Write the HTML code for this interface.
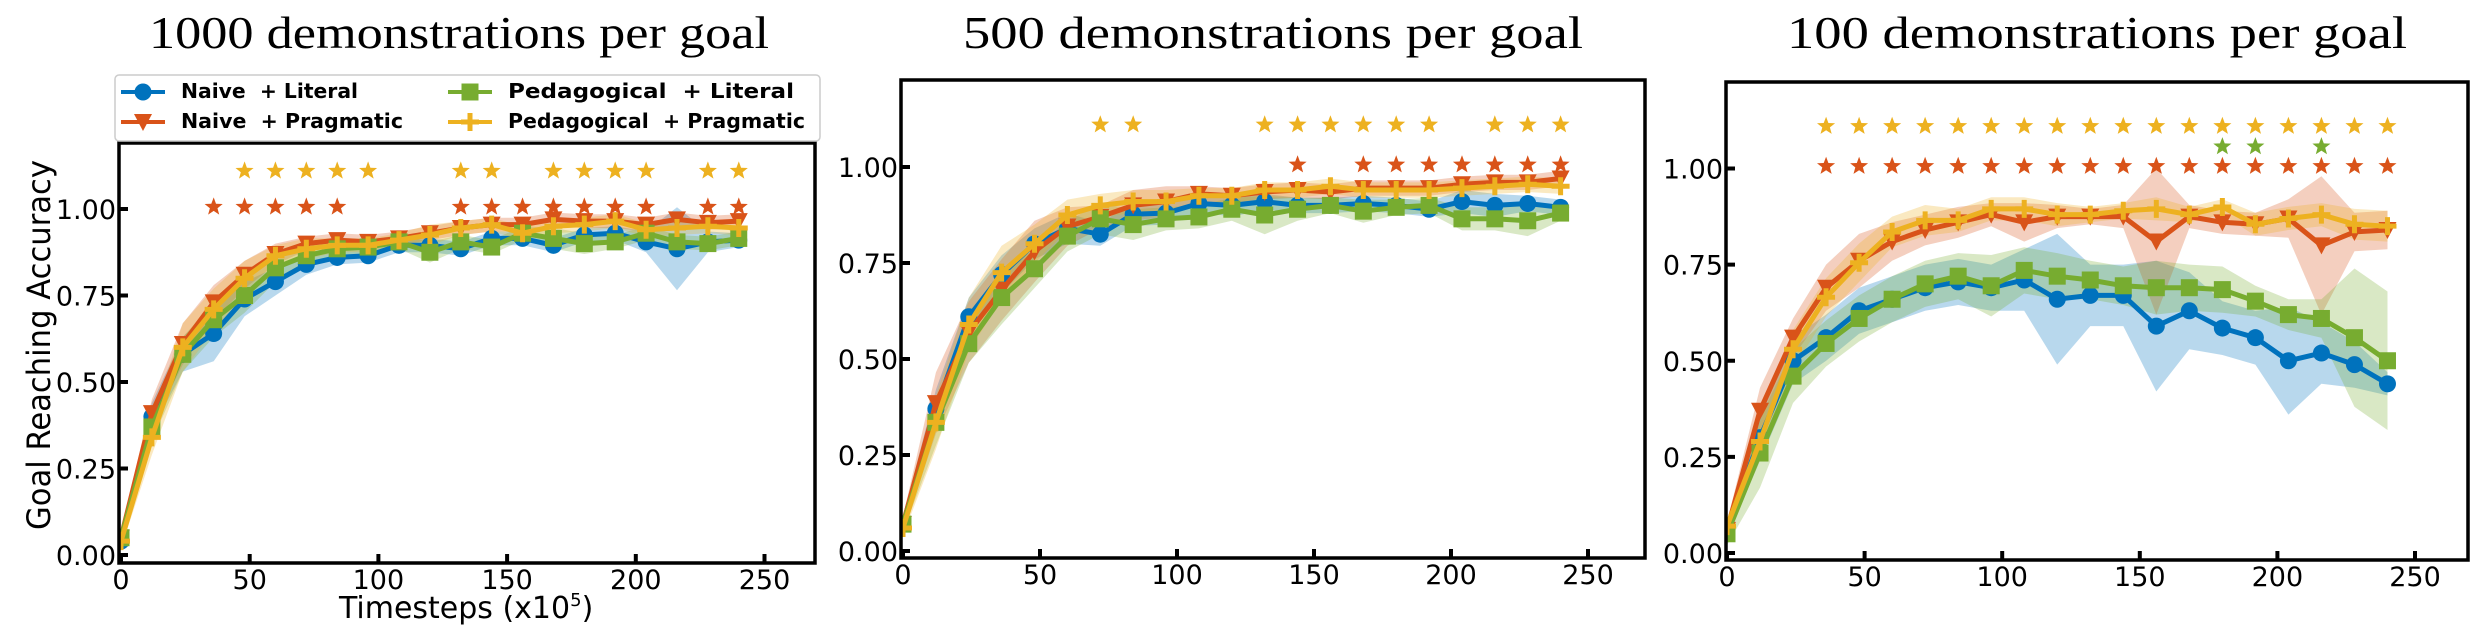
<!DOCTYPE html>
<html><head><meta charset="utf-8"><style>
html,body{margin:0;padding:0;background:#fff;}
svg{display:block;}
.leg{white-space:pre;}
</style></head><body>
<svg id="fig" width="2471" height="628" viewBox="0 0 2471 628" xmlns="http://www.w3.org/2000/svg"></svg>
<script>
// ---------- DATA ----------
const steps = [0,12,24,36,48,60,72,84,96,108,120,132,144,156,168,180,192,204,216,228,240];
const panelTitles = ["1000 demonstrations per goal","500 demonstrations per goal","100 demonstrations per goal"];
const seriesNames = ["Naive  + Literal","Naive  + Pragmatic","Pedagogical  + Literal","Pedagogical  + Pragmatic"];
const xTicks = [0,50,100,150,200,250];
const yTicks = [0,0.25,0.5,0.75,1.0];
const yTickLabels = ["0.00","0.25","0.50","0.75","1.00"];

// panel 1 (1000 demos)
const p1Blue   = [0.04,0.40,0.58,0.64,0.74,0.79,0.84,0.86,0.865,0.895,0.895,0.885,0.915,0.915,0.895,0.925,0.93,0.905,0.885,0.905,0.91];
const p1Red    = [0.05,0.41,0.61,0.73,0.81,0.87,0.90,0.91,0.905,0.915,0.93,0.945,0.955,0.955,0.97,0.965,0.965,0.955,0.97,0.96,0.965];
const p1Green  = [0.05,0.37,0.58,0.68,0.75,0.83,0.865,0.885,0.89,0.905,0.875,0.905,0.89,0.93,0.915,0.90,0.905,0.93,0.905,0.90,0.915];
const p1Orange = [0.04,0.34,0.60,0.71,0.80,0.865,0.885,0.895,0.895,0.91,0.925,0.945,0.955,0.93,0.95,0.955,0.965,0.94,0.945,0.95,0.945];
const p1BlueSd   = [0.02,0.04,0.05,0.08,0.05,0.04,0.03,0.02,0.02,0.02,0.02,0.02,0.02,0.02,0.02,0.02,0.02,0.03,0.12,0.03,0.02];
const p1RedSd    = [0.02,0.04,0.06,0.05,0.04,0.03,0.02,0.02,0.02,0.02,0.02,0.02,0.02,0.02,0.02,0.02,0.02,0.02,0.02,0.02,0.02];
const p1GreenSd  = [0.02,0.04,0.05,0.05,0.05,0.04,0.03,0.02,0.02,0.02,0.03,0.02,0.02,0.02,0.03,0.03,0.02,0.02,0.02,0.02,0.02];
const p1OrangeSd = [0.02,0.05,0.07,0.06,0.05,0.03,0.03,0.02,0.02,0.02,0.03,0.02,0.02,0.02,0.02,0.02,0.02,0.02,0.02,0.02,0.02];
const p1StarsOrange = [48,60,72,84,96,132,144,168,180,192,204,228,240];
const p1StarsRed    = [36,48,60,72,84,132,144,156,168,180,192,204,228,240];
const p1StarsGreen  = [];

// panel 2 (500 demos)
const p2Blue   = [0.07,0.37,0.61,0.72,0.80,0.84,0.825,0.877,0.88,0.905,0.90,0.91,0.90,0.90,0.905,0.90,0.89,0.91,0.90,0.905,0.895];
const p2Red    = [0.07,0.385,0.57,0.68,0.78,0.845,0.87,0.90,0.91,0.93,0.925,0.935,0.94,0.935,0.945,0.945,0.945,0.955,0.96,0.96,0.97];
const p2Green  = [0.07,0.335,0.54,0.66,0.735,0.82,0.865,0.85,0.865,0.87,0.89,0.875,0.89,0.90,0.885,0.895,0.90,0.865,0.865,0.86,0.88];
const p2Orange = [0.06,0.335,0.59,0.725,0.80,0.875,0.90,0.91,0.91,0.925,0.925,0.94,0.94,0.95,0.94,0.94,0.94,0.945,0.95,0.955,0.95];
const p2BlueSd   = [0.02,0.05,0.05,0.05,0.04,0.04,0.03,0.03,0.03,0.02,0.03,0.02,0.02,0.02,0.02,0.02,0.02,0.03,0.03,0.02,0.02];
const p2RedSd    = [0.02,0.08,0.08,0.08,0.08,0.05,0.03,0.04,0.04,0.02,0.02,0.02,0.02,0.02,0.02,0.02,0.02,0.02,0.02,0.02,0.02];
const p2GreenSd  = [0.02,0.06,0.05,0.07,0.05,0.04,0.04,0.04,0.03,0.03,0.03,0.05,0.03,0.02,0.03,0.02,0.02,0.03,0.03,0.04,0.02];
const p2OrangeSd = [0.02,0.07,0.07,0.07,0.05,0.04,0.03,0.03,0.03,0.02,0.02,0.02,0.02,0.02,0.02,0.02,0.02,0.02,0.02,0.02,0.02];
const p2StarsOrange = [72,84,132,144,156,168,180,192,216,228,240];
const p2StarsRed    = [144,168,180,192,204,216,228,240];
const p2StarsGreen  = [];

// panel 3 (100 demos)
const p3Blue   = [0.06,0.30,0.50,0.56,0.63,0.66,0.69,0.705,0.69,0.71,0.66,0.67,0.67,0.59,0.63,0.585,0.56,0.50,0.52,0.49,0.44];
const p3Red    = [0.06,0.37,0.56,0.69,0.76,0.81,0.84,0.86,0.88,0.86,0.875,0.875,0.875,0.81,0.875,0.86,0.855,0.87,0.80,0.835,0.84];
const p3Green  = [0.05,0.26,0.46,0.545,0.61,0.66,0.70,0.72,0.695,0.735,0.72,0.71,0.695,0.69,0.69,0.685,0.655,0.62,0.61,0.56,0.50];
const p3Orange = [0.07,0.29,0.53,0.665,0.755,0.835,0.865,0.865,0.895,0.895,0.88,0.88,0.89,0.895,0.88,0.90,0.855,0.87,0.88,0.855,0.85];
const p3BlueSd   = [0.02,0.06,0.06,0.06,0.06,0.06,0.06,0.06,0.06,0.08,0.17,0.08,0.08,0.17,0.10,0.07,0.07,0.14,0.08,0.06,0.03];
const p3RedSd    = [0.02,0.06,0.05,0.06,0.07,0.05,0.04,0.04,0.03,0.05,0.03,0.02,0.03,0.19,0.03,0.03,0.03,0.05,0.18,0.05,0.05];
const p3GreenSd  = [0.03,0.09,0.07,0.06,0.06,0.06,0.06,0.06,0.08,0.06,0.06,0.05,0.05,0.07,0.06,0.06,0.04,0.04,0.05,0.18,0.18];
const p3OrangeSd = [0.02,0.05,0.05,0.05,0.05,0.04,0.04,0.03,0.03,0.03,0.03,0.02,0.02,0.03,0.02,0.02,0.03,0.03,0.03,0.04,0.04];
const p3StarsOrange = [36,48,60,72,84,96,108,120,132,144,156,168,180,192,204,216,228,240];
const p3StarsRed    = [36,48,60,72,84,96,108,120,132,144,156,168,180,192,204,216,228,240];
const p3StarsGreen  = [180,192,216];

const starLevels = [1.11, 1.057, 1.006]; // orange, green, red rows

// ---------- RENDER ----------
const NS = "http://www.w3.org/2000/svg";
const svg = document.getElementById("fig");
const colors = ["#0072BD","#D95319","#77AC30","#EDB120"];
const markerKinds = ["circle","tri","square","plus"];

function mk(tag, attrs, parent){
  const e = document.createElementNS(NS, tag);
  for (const k in attrs) e.setAttribute(k, attrs[k]);
  (parent||svg).appendChild(e);
  return e;
}

const panels = [
  {x0:121, xs:128.7/50, y0:555, ys:346, left:119, right:815, top:143, bottom:563, tx:459, data:[p1Blue,p1Red,p1Green,p1Orange], sd:[p1BlueSd,p1RedSd,p1GreenSd,p1OrangeSd], stars:[p1StarsOrange,p1StarsGreen,p1StarsRed]},
  {x0:903, xs:137/50, y0:551, ys:384, left:901, right:1645, top:80, bottom:558, tx:1273, data:[p2Blue,p2Red,p2Green,p2Orange], sd:[p2BlueSd,p2RedSd,p2GreenSd,p2OrangeSd], stars:[p2StarsOrange,p2StarsGreen,p2StarsRed]},
  {x0:1727, xs:137.6/50, y0:553, ys:384.5, left:1726, right:2468, top:82, bottom:560, tx:2097, data:[p3Blue,p3Red,p3Green,p3Orange], sd:[p3BlueSd,p3RedSd,p3GreenSd,p3OrangeSd], stars:[p3StarsOrange,p3StarsGreen,p3StarsRed]}
];

function starPath(cx, cy, R){
  const r = R*0.42; let d = "";
  for (let i=0;i<10;i++){
    const a = -Math.PI/2 + i*Math.PI/5;
    const rr = i%2===0 ? R : r;
    d += (i===0?"M":"L") + (cx+rr*Math.cos(a)).toFixed(1) + " " + (cy+rr*Math.sin(a)).toFixed(1);
  }
  return d + "Z";
}

function drawMarker(g, kind, cx, cy, color){
  let m;
  if (kind==="circle") m = mk("circle",{cx:cx,cy:cy,r:8.5,fill:color},g);
  else if (kind==="tri") m = mk("path",{d:`M${cx-9} ${cy-8}L${cx+9} ${cy-8}L${cx} ${cy+9}Z`,fill:color},g);
  else if (kind==="square") m = mk("rect",{x:cx-8.5,y:cy-8.5,width:17,height:17,fill:color},g);
  else m = mk("path",{d:`M${cx-9} ${cy}L${cx+9} ${cy}M${cx} ${cy-9}L${cx} ${cy+9}`,stroke:color,"stroke-width":5},g);
  return m;
}

panels.forEach((p, pi) => {
  const X = v => p.x0 + v*p.xs;
  const Y = v => p.y0 - v*p.ys;
  const pg = mk("g",{});
  
  

  const t = mk("text",{x:p.tx,y:48,"text-anchor":"middle","font-family":"'Liberation Serif',serif","font-size":46,fill:"#000",textLength:620,lengthAdjust:"spacingAndGlyphs"},pg);
  t.textContent = panelTitles[pi];
  
  

  const cp = mk("clipPath",{id:"clip"+pi},pg);
  mk("rect",{x:p.left,y:p.top,width:p.right-p.left,height:p.bottom-p.top},cp);

  const bandG = mk("g",{"clip-path":`url(#clip${pi})`},pg);
  p.data.forEach((vals, si) => {
    const sd = p.sd[si];
    let d = "";
    vals.forEach((v,i)=>{ d += (i?"L":"M") + X(steps[i]).toFixed(1)+" "+Y(v+sd[i]).toFixed(1); });
    for (let i=vals.length-1;i>=0;i--) d += "L"+X(steps[i]).toFixed(1)+" "+Y(vals[i]-sd[i]).toFixed(1);
    const b = mk("path",{d:d+"Z",fill:colors[si],"fill-opacity":0.28,stroke:"none"},bandG);
    
    
  });
  p.data.forEach((vals, si) => {
    const g = mk("g",{},bandG);
    
    
    const pts = vals.map((v,i)=>X(steps[i]).toFixed(1)+","+Y(v).toFixed(1)).join(" ");
    mk("polyline",{points:pts,fill:"none",stroke:colors[si],"stroke-width":5,"stroke-linejoin":"round"},g);
    vals.forEach((v,i)=>{
      const m = drawMarker(g, markerKinds[si], X(steps[i]), Y(v), colors[si]);
      
      
    });
  });

  const starColors = [colors[3], colors[2], colors[1]];
  p.stars.forEach((arr, ri) => {
    arr.forEach(sx => {
      const s = mk("path",{d:starPath(X(sx), Y(starLevels[ri]), 9.5),fill:starColors[ri]},pg);
      
      
    });
  });

  const fr = mk("rect",{x:p.left,y:p.top,width:p.right-p.left,height:p.bottom-p.top,fill:"none",stroke:"#000","stroke-width":3.5},pg);
  
  

  xTicks.forEach(v => {
    mk("line",{x1:X(v),x2:X(v),y1:p.bottom,y2:p.bottom-9,stroke:"#000","stroke-width":4},pg);
    const tl = mk("text",{x:X(v),y:p.bottom+26,"text-anchor":"middle","font-family":"'DejaVu Sans',sans-serif","font-size":27,fill:"#000"},pg);
    tl.textContent = v;
    
    
  });
  yTicks.forEach((v,i) => {
    mk("line",{x1:p.left,x2:p.left+9,y1:Y(v),y2:Y(v),stroke:"#000","stroke-width":4},pg);
    const tl = mk("text",{x:p.left-3,y:Y(v)+10,"text-anchor":"end","font-family":"'DejaVu Sans',sans-serif","font-size":27,fill:"#000"},pg);
    tl.textContent = yTickLabels[i];
    
    
  });
});

const yt = mk("text",{x:0,y:0,transform:"translate(50,345) rotate(-90)","text-anchor":"middle","font-family":"'DejaVu Sans',sans-serif","font-size":32,fill:"#000",textLength:370,lengthAdjust:"spacingAndGlyphs"});
yt.textContent = "Goal Reaching Accuracy";



const xt = mk("text",{x:339,y:618,"font-family":"'DejaVu Sans',sans-serif","font-size":30,fill:"#000"});


xt.innerHTML = 'Timesteps (x10<tspan font-size="18" dy="-12">5</tspan><tspan dy="12">)</tspan>';

const lg = mk("g",{});


mk("rect",{x:115,y:75,width:705,height:66,rx:4,fill:"#fff",stroke:"#ccc","stroke-width":1.5},lg);
const legPos = [[121,98],[121,128],[448,98],[448,128]];
const legW = [177,222,286,297];
seriesNames.forEach((n,si)=>{
  const [lx,ly] = legPos[si];
  const e = mk("g",{},lg);
  
  
  mk("line",{x1:lx,x2:lx+44,y1:ly-6,y2:ly-6,stroke:colors[si],"stroke-width":4},e);
  drawMarker(e, markerKinds[si], lx+22, ly-6, colors[si]);
  const tx = mk("text",{class:"leg",x:lx+60,y:ly,"font-family":"'DejaVu Sans',sans-serif","font-weight":"bold","font-size":20,fill:"#000",textLength:legW[si],lengthAdjust:"spacingAndGlyphs"},e);
  tx.textContent = n;
});
</script>
</body></html>
